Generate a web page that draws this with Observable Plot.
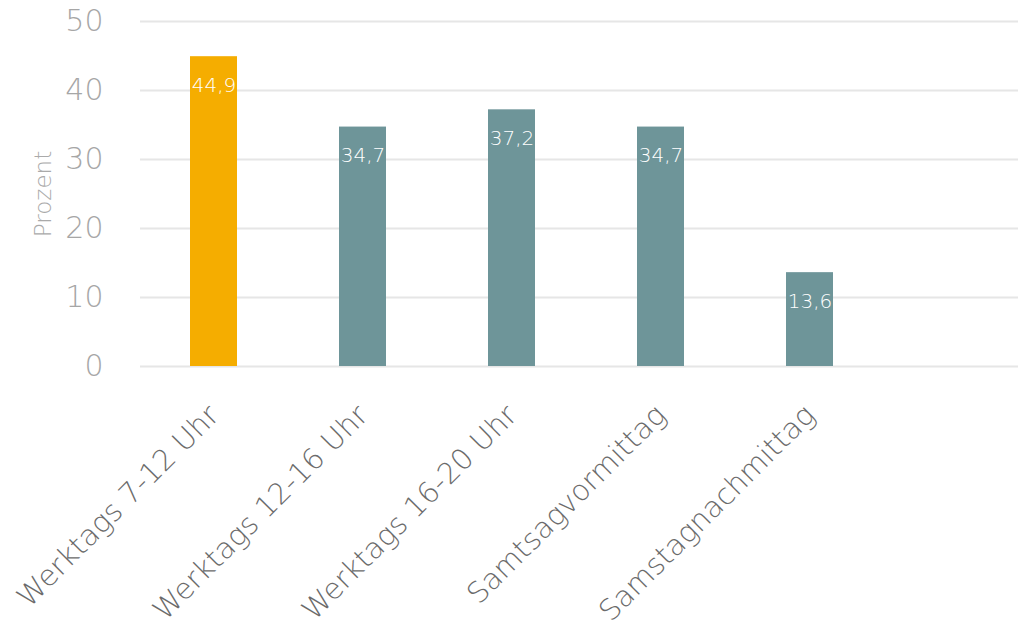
<!DOCTYPE html>
<html><head><meta charset="utf-8">
<script src="https://cdn.jsdelivr.net/npm/d3@7"></script>
<script src="https://cdn.jsdelivr.net/npm/@observablehq/plot@0.6"></script>
<style>body{margin:0;background:#fff;}</style>
</head><body><div id="chart"></div>
<script>
const categories = ["Werktags 7-12 Uhr", "Werktags 12-16 Uhr", "Werktags 16-20 Uhr", "Samtsagvormittag", "Samstagnachmittag"];
const values = [44.9, 34.7, 37.2, 34.7, 13.6];
const valueLabels = ["44,9", "34,7", "37,2", "34,7", "13,6"];
const yTicks = [0, 10, 20, 30, 40, 50];
const yTitle = "Prozent";
const highlighted = "Werktags 7-12 Uhr";

const data = categories.map((c, i) => ({category: c, value: values[i], label: valueLabels[i]}));
const FONT = "'DejaVu Sans', sans-serif";

const chart = Plot.plot({
  width: 1018, height: 641,
  marginLeft: 140, marginRight: 0, marginTop: 21, marginBottom: 275,
  style: {fontFamily: FONT, background: "#fff", overflow: "visible"},
  x: {domain: categories, range: [139, 884], paddingInner: 0.685, paddingOuter: 0.3425, label: null},
  y: {domain: [0, 50], label: null},
  marks: [
    Plot.gridY(yTicks, {stroke: "#e6e6e6", strokeOpacity: 1, strokeWidth: 2}),
    Plot.barY(data, {x: "category", y: "value", fill: d => d.category === highlighted ? "#F5AD00" : "#6E9599"}),
    Plot.text(data, {x: "category", y: "value", text: "label", dy: 29, fill: "white", fontSize: 20, fontWeight: 300}),
    Plot.axisY(yTicks, {tickSize: 0, tickPadding: 37, fontSize: 30, fontWeight: 300, color: "#a6a6a6", label: null}),
    Plot.text([yTitle], {frameAnchor: "left", textAnchor: "middle", dx: -97, rotate: -90, fontSize: 23, fontWeight: 300, fill: "#aaaaaa"}),
    Plot.axisX({tickSize: 0, tickPadding: 44, tickRotate: -45, fontSize: 29, fontWeight: 300, color: "#6b6b6b", label: null})
  ]
});
document.getElementById("chart").appendChild(chart);
</script>
</body></html>
